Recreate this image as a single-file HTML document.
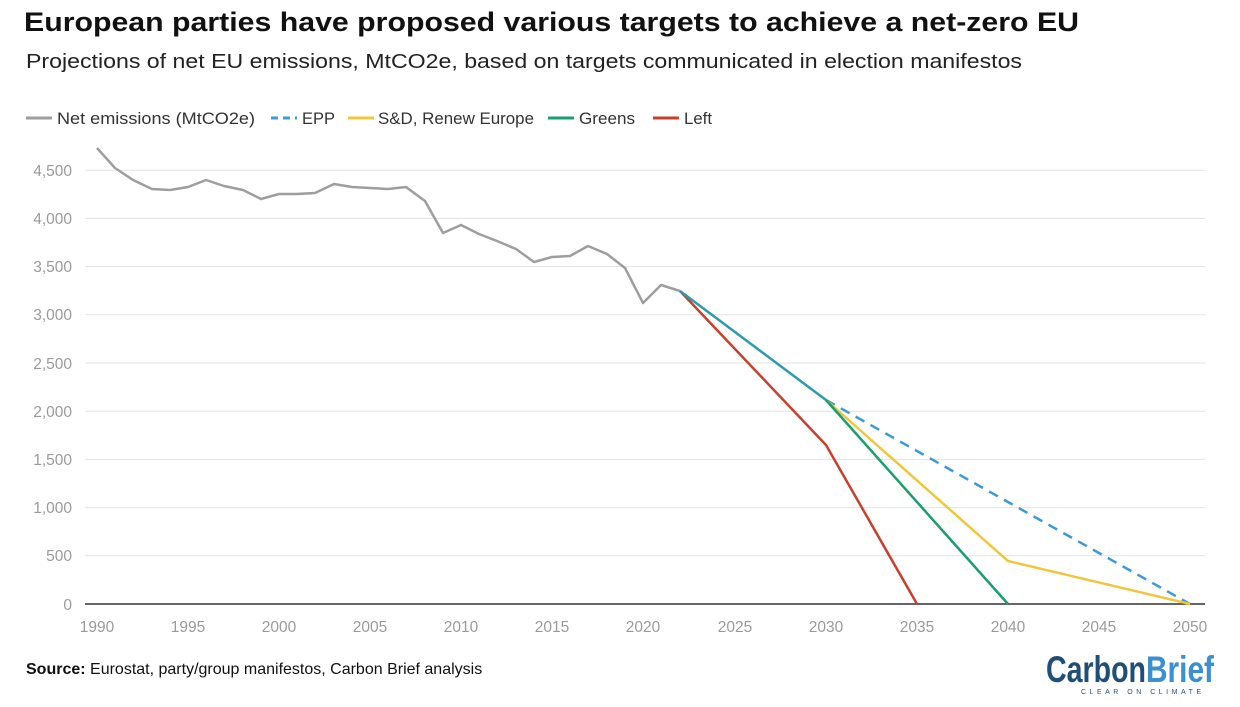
<!DOCTYPE html>
<html><head><meta charset="utf-8"><style>
body{margin:0;background:#fff;width:1240px;height:702px;overflow:hidden;font-family:"Liberation Sans",sans-serif;}
</style></head><body>
<svg width="1240" height="702" xmlns="http://www.w3.org/2000/svg" font-family="Liberation Sans, sans-serif">
<text x="24" y="31" font-size="27" font-weight="bold" fill="#111" textLength="1055" lengthAdjust="spacingAndGlyphs">European parties have proposed various targets to achieve a net-zero EU</text>
<text x="26" y="68" font-size="20" fill="#222" textLength="996" lengthAdjust="spacingAndGlyphs">Projections of net EU emissions, MtCO2e, based on targets communicated in election manifestos</text>
<g font-size="17" fill="#333">
<line x1="26" y1="118" x2="52" y2="118" stroke="#9e9e9e" stroke-width="3"/>
<text x="57" y="124" textLength="198" lengthAdjust="spacingAndGlyphs">Net emissions (MtCO2e)</text>
<line x1="271" y1="118" x2="297" y2="118" stroke="#3c9ad6" stroke-width="3" stroke-dasharray="7,5"/>
<text x="302" y="124" textLength="33" lengthAdjust="spacingAndGlyphs">EPP</text>
<line x1="348" y1="118" x2="374" y2="118" stroke="#f0c63a" stroke-width="3"/>
<text x="378" y="124" textLength="156" lengthAdjust="spacingAndGlyphs">S&amp;D, Renew Europe</text>
<line x1="548" y1="118" x2="574" y2="118" stroke="#1a9e6e" stroke-width="3"/>
<text x="579" y="124" textLength="56" lengthAdjust="spacingAndGlyphs">Greens</text>
<line x1="653" y1="118" x2="679" y2="118" stroke="#c8402b" stroke-width="3"/>
<text x="684" y="124" textLength="28" lengthAdjust="spacingAndGlyphs">Left</text>
</g>
<g stroke="#e3e3e3" stroke-width="1">
<line x1="85" x2="1205" y1="555.8" y2="555.8"/><line x1="85" x2="1205" y1="507.6" y2="507.6"/>
<line x1="85" x2="1205" y1="459.4" y2="459.4"/><line x1="85" x2="1205" y1="411.2" y2="411.2"/>
<line x1="85" x2="1205" y1="363" y2="363"/><line x1="85" x2="1205" y1="314.8" y2="314.8"/>
<line x1="85" x2="1205" y1="266.6" y2="266.6"/><line x1="85" x2="1205" y1="218.4" y2="218.4"/>
<line x1="85" x2="1205" y1="170.2" y2="170.2"/>
</g>
<g font-size="15.5" fill="#9a9a9a" text-anchor="end">
<text x="72" y="610">0</text><text x="72" y="561">500</text><text x="72" y="513">1,000</text>
<text x="72" y="465">1,500</text><text x="72" y="417">2,000</text><text x="72" y="369">2,500</text>
<text x="72" y="320">3,000</text><text x="72" y="272">3,500</text><text x="72" y="224">4,000</text>
<text x="72" y="176">4,500</text>
</g>
<g font-size="15.5" fill="#9a9a9a" text-anchor="middle">
<text x="97" y="632">1990</text><text x="188" y="632">1995</text><text x="279" y="632">2000</text>
<text x="370" y="632">2005</text><text x="461" y="632">2010</text><text x="552" y="632">2015</text>
<text x="643" y="632">2020</text><text x="735" y="632">2025</text><text x="826" y="632">2030</text>
<text x="917" y="632">2035</text><text x="1008" y="632">2040</text><text x="1099" y="632">2045</text>
<text x="1190" y="632">2050</text>
</g>
<line x1="85" x2="1205" y1="604" y2="604" stroke="#333" stroke-width="1.5"/>
<polyline fill="none" stroke="#9e9e9e" stroke-width="2.5" stroke-linejoin="round" points="97,148 115,168 133,180 152,189 170,190 188,187 206,180 224,186 243,190 261,199 279,194 297,194 315,193 334,184 352,187 370,188 388,189 406,187 425,201 443,233 461,225 479,234 497,241 516,249 534,262 552,257 570,256 588,246 607,254 625,268 643,303 661,285 680,291"/>
<polyline fill="none" stroke="#3c9ad6" stroke-width="2.5" stroke-dasharray="10,7" points="826,400 1190,604"/>
<polyline fill="none" stroke="#f0c63a" stroke-width="2.5" points="826,400 1008,561 1190,604"/>
<polyline fill="none" stroke="#1a9e6e" stroke-width="2.5" points="826,400 1008,604"/>
<polyline fill="none" stroke="#c8402b" stroke-width="2.5" points="680,291 826,445 917,604"/>
<polyline fill="none" stroke="#2a9cae" stroke-width="2.5" points="680,291 826,400"/>
<text x="26" y="674" font-size="16" fill="#111"><tspan font-weight="bold">Source:</tspan> Eurostat, party/group manifestos, Carbon Brief analysis</text>
<text x="1046" y="682" font-size="37" font-weight="bold" fill="#1f4e79" textLength="100" lengthAdjust="spacingAndGlyphs">Carbon</text>
<text x="1146" y="682" font-size="37" font-weight="bold" fill="#3c8fd0" textLength="68" lengthAdjust="spacingAndGlyphs">Brief</text>
<text x="1081" y="694" font-size="7" fill="#1f4e79" letter-spacing="3.5">CLEAR ON CLIMATE</text>
</svg>
</body></html>
